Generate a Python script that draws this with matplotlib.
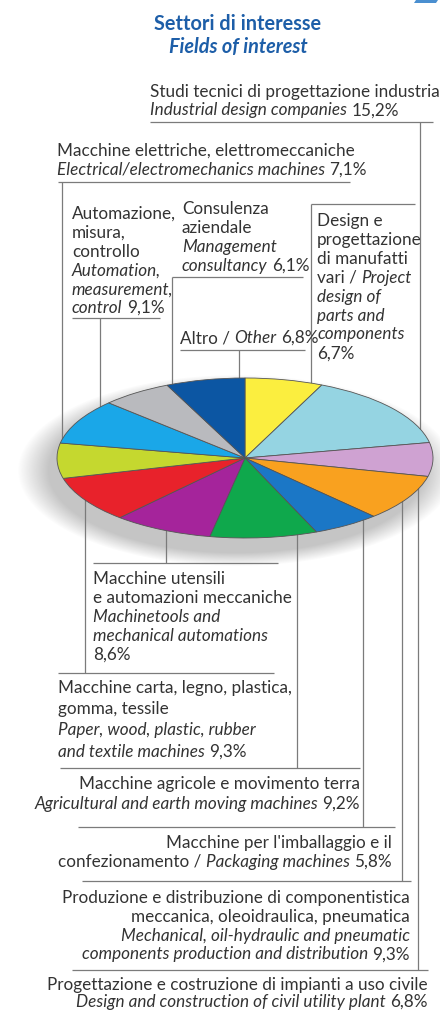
import matplotlib.pyplot as plt
import numpy as np

W, H = 440, 1011
FONT = 'Lato'
FS = 12.3
GREY = '#7b7b7b'

# slices, clockwise from 12 o'clock
shares = [6.7, 15.2, 6.8, 9.3, 5.8, 9.2, 8.6, 9.3, 7.1, 9.1, 6.1, 6.8]
colors = ['#fbee3f', '#95d4e2', '#cfa2d2', '#f9a11f', '#1b77c6', '#0fa84c',
          '#a5249b', '#e8222b', '#c5d82f', '#1aa7e8', '#b9babe', '#0c56a3']

# label texts: each line is a list of (text, italic) pieces
lab_industrial = [[("Studi tecnici di progettazione industriale", False)],
                  [("Industrial design companies", True), ("15,2%", False)]]
lab_electric = [[("Macchine elettriche, elettromeccaniche", False)],
                [("Electrical/electromechanics machines", True), ("7,1%", False)]]
lab_automation = [[("Automazione,", False)], [("misura,", False)], [("controllo", False)],
                  [("Automation,", True)], [("measurement,", True)],
                  [("control", True), ("9,1%", False)]]
lab_consult = [[("Consulenza", False)], [("aziendale", False)],
               [("Management", True)], [("consultancy", True), ("6,1%", False)]]
lab_design = [[("Design e", False)], [("progettazione", False)], [("di manufatti", False)],
              [("vari /", False), ("Project", True)], [("design of", True)],
              [("parts and", True)], [("components", True)], [("6,7%", False)]]
lab_other = [[("Altro /", False), ("Other", True), ("6,8%", False)]]
lab_tools = [[("Macchine utensili", False)], [("e automazioni meccaniche", False)],
             [("Machinetools and", True)], [("mechanical automations", True)],
             [("8,6%", False)]]
lab_paper = [[("Macchine carta, legno, plastica,", False)], [("gomma, tessile", False)],
             [("Paper, wood, plastic, rubber", True)],
             [("and textile machines", True), ("9,3%", False)]]
lab_agri = [[("Macchine agricole e movimento terra", False)],
            [("Agricultural and earth moving machines", True), ("9,2%", False)]]
lab_pack = [[("Macchine per l'imballaggio e il", False)],
            [("confezionamento /", False), ("Packaging machines", True), ("5,8%", False)]]
lab_comp = [[("Produzione e distribuzione di componentistica", False)],
            [("meccanica, oleoidraulica, pneumatica", False)],
            [("Mechanical, oil-hydraulic and pneumatic", True)],
            [("components production and distribution", True), ("9,3%", False)]]
lab_civil = [[("Progettazione e costruzione di impianti a uso civile", False)],
             [("Design and construction of civil utility plant", True), ("6,8%", False)]]

fig = plt.figure(figsize=(W / 100, H / 100), dpi=100)
fig.patch.set_facecolor('white')
ax = fig.add_axes([0, 0, 1, 1])
ax.set_xlim(0, W)
ax.set_ylim(H, 0)
ax.axis('off')

renderer = fig.canvas.get_renderer()


def width_of(t, italic):
    tt = ax.text(0, 0, t, fontsize=FS, family=FONT, style='italic' if italic else 'normal')
    w = tt.get_window_extent(renderer).width
    tt.remove()
    return w


SPACE = width_of("a a", False) - width_of("aa", False)


def draw_block(lines, x, y0, dy, ha='left'):
    ys = [y0 + i * dy for i in range(len(lines))]
    for segs, y in zip(lines, ys):
        ws = [width_of(t, it) for t, it in segs]
        total = sum(ws) + SPACE * (len(segs) - 1)
        cx = x if ha == 'left' else x - total
        for (t, it), w in zip(segs, ws):
            ax.text(cx, y, t, fontsize=FS, family=FONT, color='#333333',
                    style='italic' if it else 'normal', va='baseline', ha='left')
            cx += w + SPACE


def leader(pts):
    xs, ys = zip(*pts)
    ax.plot(xs, ys, color=GREY, lw=0.9, solid_capstyle='butt')


# soft shadow below the pie
gx, gy = np.meshgrid(np.arange(0, W), np.arange(340, 600))
r = np.sqrt(((gx - 236) / 192.0) ** 2 + ((gy - 470) / 84.0) ** 2)
alpha = 0.5 * np.clip((1.14 - r) / 0.16, 0, 1)
shadow = np.zeros(gx.shape + (4,))
shadow[..., :3] = 0.55
shadow[..., 3] = alpha
ax.imshow(shadow, extent=(0, W, 600, 340), zorder=0, interpolation='bilinear')
ax.set_xlim(0, W)
ax.set_ylim(H, 0)
ax.set_aspect('auto')

# title
ax.text(238, 30, "Settori di interesse", fontsize=14.3, family=FONT, weight='bold',
        color='#1d5ea8', ha='center', va='baseline')
ax.text(238, 53, "Fields of interest", fontsize=14.3, family=FONT, weight='bold',
        style='italic', color='#1d5ea8', ha='center', va='baseline')
ax.fill([416, 438, 436, 414], [0, 0, 3, 3], color='#4a8fd0', lw=0)

# labels
draw_block(lab_industrial, 150, 97, 18.5)
draw_block(lab_electric, 57, 156, 18.5)
draw_block(lab_automation, 72, 219, 18.8)
draw_block(lab_consult, 182, 214, 19)
draw_block(lab_design, 317, 226, 18.9)
draw_block(lab_other, 180, 343, 0)
draw_block(lab_tools, 93, 584, 19)
draw_block(lab_paper, 58, 693, 21.2)
draw_block(lab_agri, 360, 789, 20, ha='right')
draw_block(lab_pack, 392, 848, 18.5, ha='right')
draw_block(lab_comp, 410, 903, 18.8, ha='right')
draw_block(lab_civil, 428, 990, 16.5, ha='right')

# leader lines
leader([(150, 122), (433, 122)]); leader([(420, 122), (420, 441)])
leader([(58, 182), (350, 182)]); leader([(62, 182), (62, 457)])
leader([(72, 318), (160, 318)]); leader([(100, 318), (100, 418)])
leader([(172, 277), (303, 277)]); leader([(172, 277), (172, 405)])
leader([(311, 204), (415, 204)]); leader([(311, 204), (311, 388)])
leader([(180, 350), (305, 350)]); leader([(239, 350), (239, 380)])
leader([(93, 563), (278, 563)]); leader([(166, 503), (166, 563)])
leader([(58, 673), (274, 673)]); leader([(85, 490), (85, 673)])
leader([(60, 768), (360, 768)]); leader([(297, 522), (297, 768)])
leader([(78, 827), (395, 827)]); leader([(363, 518), (363, 827)])
leader([(82, 881), (411, 881)]); leader([(402, 490), (402, 881)])
leader([(72, 970), (428, 970)]); leader([(418, 462), (418, 970)])

# squashed pie
cx, cy, a, b = 245, 458, 188, 80
pax = fig.add_axes([(cx - a) / W, 1 - (cy + b) / H, 2 * a / W, 2 * b / H])
pax.pie(shares, colors=colors, startangle=90, counterclock=False,
        wedgeprops=dict(edgecolor='#555555', linewidth=0.6))
pax.set_aspect('auto')
pax.set_xlim(-1.0, 1.0)
pax.set_ylim(-1.0, 1.0)
pax.axis('off')

fig.savefig('out.png', dpi=100, facecolor='white')
